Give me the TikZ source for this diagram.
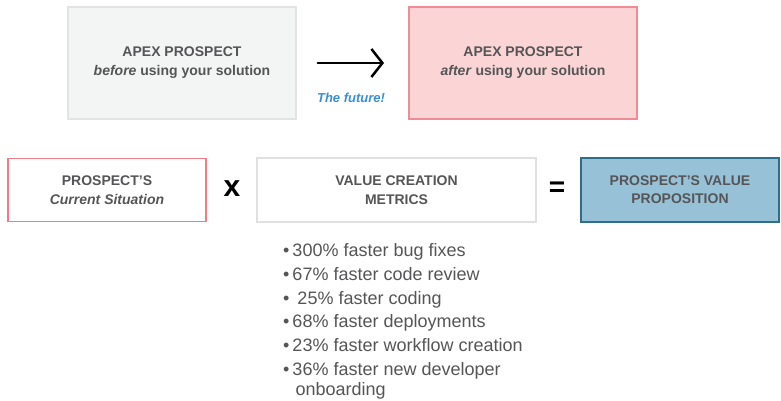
\documentclass[tikz,border=0pt]{standalone}
\usepackage{fontspec}
\setmainfont{Liberation Sans}
\usepackage{xcolor}
\usetikzlibrary{arrows.meta}
\definecolor{txtgray}{HTML}{555557}
\definecolor{beforefill}{HTML}{F3F4F4}
\definecolor{beforeline}{HTML}{E2E4E4}
\definecolor{afterfill}{HTML}{FBD5D5}
\definecolor{afterline}{HTML}{F28B95}
\definecolor{pinkline}{HTML}{F07C88}
\definecolor{metricline}{HTML}{E0E0E0}
\definecolor{propfill}{HTML}{97C1D7}
\definecolor{propline}{HTML}{2E6E8C}
\definecolor{futureblue}{HTML}{3A8FD0}
\tikzset{
	box/.style={draw, line width=1.5pt, align=center, text=txtgray, inner sep=0pt,
		font=\fontsize{14}{19}\selectfont\bfseries},
	bigbox/.style={box, minimum width=228pt, minimum height=112pt},
	smallbox/.style={box, minimum height=64pt},
	operator/.style={font=\fontsize{30}{30}\selectfont\bfseries, text=black, inner sep=0pt},
	future/.style={font=\fontsize{13}{14}\selectfont\bfseries\itshape, text=futureblue},
	bullets/.style={align=left, inner sep=0pt, text=txtgray,
		font=\fontsize{18}{23.7}\selectfont},
}
\begin{document}
\begin{tikzpicture}[x=1pt,y=-1pt]
	\useasboundingbox (0,0) rectangle (781,401);
	% top row
	\node[bigbox, fill=beforefill, draw=beforeline] (before) at (182,63)
		{APEX PROSPECT\\\textit{before} using your solution};
	\node[bigbox, fill=afterfill, draw=afterline, line width=2pt] (after) at (523,63)
		{APEX PROSPECT\\\textit{after} using your solution};
	\draw[line width=2.5pt, line cap=round, line join=round,
		-{Straight Barb[length=11pt,width=28pt]}, shorten <=21pt, shorten >=24pt]
		(before.east) -- (after.west);
	\node[future] (futuretxt) at (351,98) {The future!};
	%
	% equation row
	\node[smallbox, fill=white, draw=pinkline, minimum width=198pt, minimum height=63pt] (situation) at (107,190)
		{PROSPECT'S\\\textit{Current Situation}};
	\node[operator] (times) at (232,189) {x};
	\node[smallbox, fill=white, draw=metricline, line width=2.5pt, minimum width=279pt] (metrics) at (396.5,190)
		{VALUE CREATION\\METRICS};
	\node[operator, font=\fontsize{28}{28}\selectfont\bfseries] (equals) at (557,189) {=};
	\node[smallbox, fill=propfill, draw=propline, minimum width=198pt,
		font=\fontsize{14}{18}\selectfont\bfseries] (proposition) at (680,190)
		{PROSPECT'S VALUE\\PROPOSITION};
	%
	% metric list
	\node[bullets, anchor=north west] (list) at (283,243.5)
		{•\,300\% faster bug fixes\\
		 •\,67\% faster code review\\
		 •\, 25\% faster coding\\
		 •\,68\% faster deployments\\
		 •\,23\% faster workflow creation\\
		 •\,36\% faster new developer\\[-3pt]
		 \phantom{•}\,\,onboarding};
\end{tikzpicture}
\end{document}
